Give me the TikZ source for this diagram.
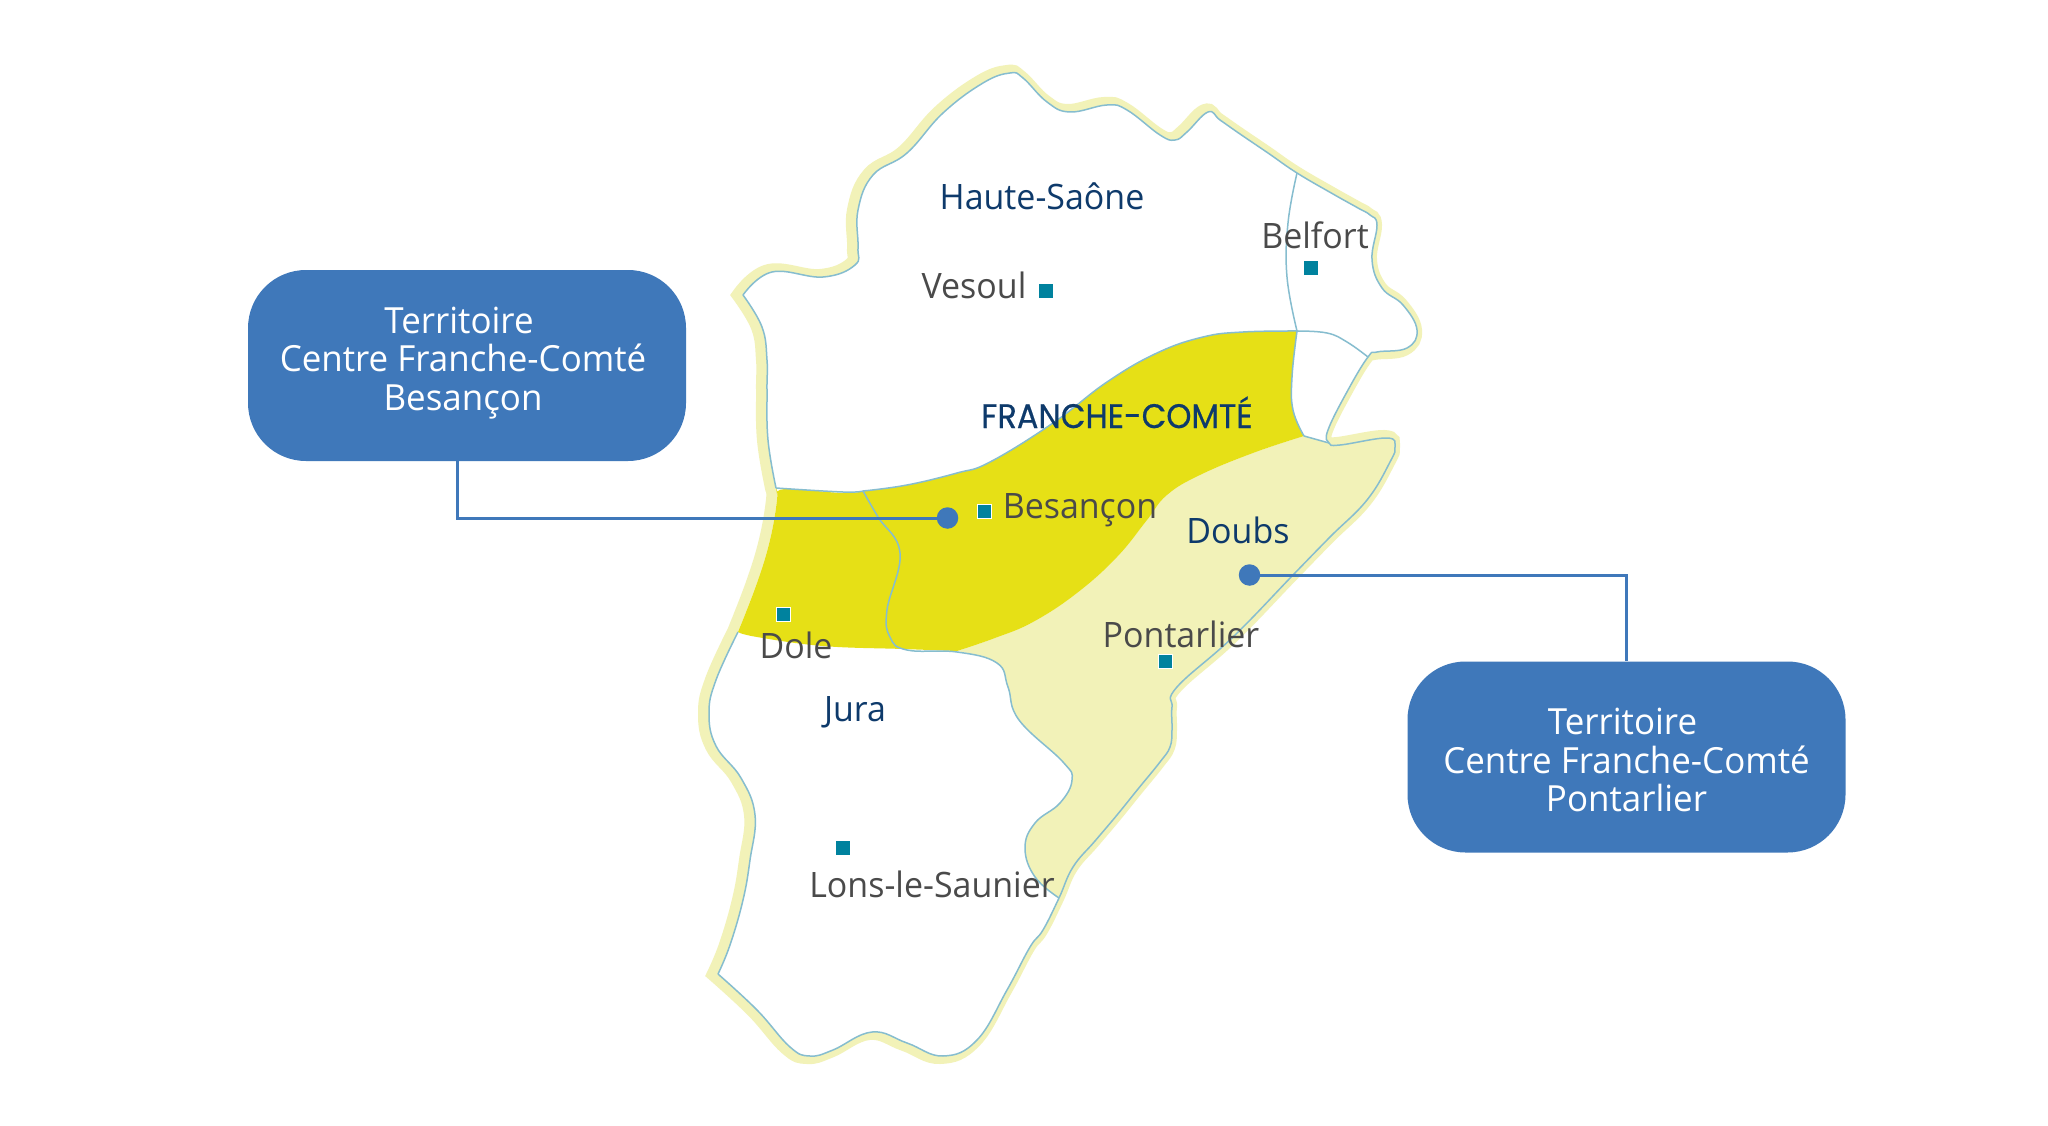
\documentclass[tikz,border=0pt]{standalone}
\usepackage{fontspec}
\setmainfont[FakeStretch=0.97]{Open Sans}
\newfontfamily\fcfont[FakeStretch=0.94,FakeBold=0.6]{Poppins}
\definecolor{pale}{HTML}{F2F2B8}
\definecolor{deep}{HTML}{E6E016}
\definecolor{seam}{HTML}{86BDCF}
\definecolor{boxblue}{HTML}{3F78BA}
\definecolor{navy}{HTML}{0E3A6B}
\definecolor{greytext}{HTML}{4A4A4A}
\definecolor{sq}{HTML}{00829E}
\newcommand\defpart[3]{\newcommand#1{plot[smooth,tension=.7] coordinates {#3}}\newcommand#2{-- plot[smooth,tension=.7] coordinates {#3}}}
\defpart\partA\joinA{(743,295)(772,272)(823,277)(855,265)(858,247)(858,210)(873,175)(907,153)(943,113)(983,83)(1010,73)(1023,78)(1047,102)(1070,112)(1107,105)(1127,110)(1160,135)(1175,140)(1187,132)(1208,112)(1220,120)(1240,134)(1268,153)(1297,173)(1333,194)(1358,208)(1370,215)(1377,225)(1372,260)(1382,288)(1403,305)(1417,330)(1407,348)(1377,352)(1368,357)(1348,390)(1328,430)(1329,443)(1340,445)(1387,438)(1395,447)(1390,462)(1367,500)(1330,537)(1293,575)(1233,637)(1177,687)(1172,707)(1172,730)(1170,747)(1160,762)(1138,789)(1117,815)(1095,841)(1073,867)(1059,898)(1043,930)(1030,947)(1007,990)(977,1040)(943,1056)(907,1043)(872,1032)(833,1050)(810,1056)(790,1047)(757,1010)(718,974)}
\defpart\partB\joinB{(718,974)(730,945)(743,900)(750,860)(755,815)(741,778)(716,746)(709,713)(716,680)(738,632)}
\defpart\partC\joinC{(738,632)(757,583)(770,540)(777,500)(776,488)}
\defpart\partD\joinD{(776,488)(768,440)(767,390)(767,360)(762,327)(743,295)}
\defpart\splitcurve\joinsplit{(1304,436)(1253,453)(1200,475)(1167,495)(1147,520)(1117,557)(1077,593)(1033,622)(995,638)(957,651)}
\defpart\topcurve\jointop{(863,491)(907,485)(957,473)(990,462)(1053,423)(1107,382)(1157,353)(1203,337)(1243,332)(1297,331)}
\defpart\holeleft\joinhole{(1297,331)(1292,377)(1293,410)(1304,436)}
\tikzset{
  seamline/.style={draw=seam,line width=1.5pt},
  blueline/.style={draw=boxblue,line width=3pt},
  bubble/.style={fill=boxblue,rounded corners=58pt,minimum width=438pt,minimum height=191pt,inner sep=0pt},
  bubbletext/.style={text=white,inner sep=0pt,align=center,font=\fontsize{36}{38.5}\selectfont},
  bluedot/.style={circle,fill=boxblue,minimum size=21.5pt,inner sep=0pt},
  town/.style={rectangle,fill=sq,minimum size=14pt,inner sep=0pt},
  towny/.style={town,draw=white,line width=1pt},
  citylabel/.style={text=greytext,inner sep=0pt,anchor=base,font=\fontsize{35}{38}\selectfont},
  arealabel/.style={text=navy,inner sep=0pt,anchor=base,font=\fontsize{35}{38}\selectfont},
}
\begin{document}
\begin{tikzpicture}[x=1pt,y=-1pt]
\useasboundingbox[fill=white] (0,0) rectangle (2048,1126);
% band
\draw[pale,line width=16pt,line join=miter,miter limit=2,xshift=-3pt] \partA \joinB \joinC \joinD -- cycle;
\fill[white] \partA \joinB \joinC \joinD -- cycle;
% lower Doubs
\fill[pale] \splitcurve -- plot[smooth,tension=.7] coordinates {(957,651)(997,663)(1008,687)(1019,720)(1063,762)(1072,780)(1060,803)(1035,823)(1025,848)(1035,877)(1059,898)} -- plot[smooth,tension=.7] coordinates {(1059,898)(1073,867)(1095,841)(1117,815)(1138,789)(1160,762)(1170,747)(1172,730)(1172,707)(1177,687)(1233,637)(1293,575)(1330,537)(1367,500)(1390,462)(1395,447)(1387,438)(1340,445)(1329,443)(1304,436)} -- cycle;
% Centre
\fill[deep] plot[smooth,tension=.7] coordinates {(777,494)(787,489)(843,493)(863,491)} \jointop \joinhole \joinsplit -- plot[smooth,tension=.7] coordinates {(957,651)(903,649)(823,646)(757,637)(738,632)} \joinC -- cycle;
% seams
\draw[seamline,line join=round] \partA;
\draw[seamline] \partB;
\draw[seamline] \partD;
\draw[seamline] plot[smooth,tension=.7] coordinates {(1297,173)(1288,223)(1287,277)(1297,331)};
\draw[seamline] plot[smooth,tension=.7] coordinates {(1297,331)(1327,333)(1347,342)(1368,357)};
\draw[seamline] plot[smooth,tension=.7] coordinates {(776,488)(843,492)(863,491)};
\draw[seamline] \topcurve;
\draw[seamline] \holeleft;
\draw[seamline] (1304,436) -- (1329,443);
\draw[seamline] plot[smooth,tension=.7] coordinates {(863,491)(878,517)(900,553)(887,610)(890,637)(907,650)(957,652)(997,663)(1008,687)(1019,720)(1063,762)(1072,780)(1060,803)(1035,823)(1025,848)(1035,877)(1059,898)};
% towns
\node[town] (vesoul) at (1045.5,291) {};
\node[town] (belfort) at (1310.6,268) {};
\node[towny] (besancon) at (984,511) {};
\node[towny] (dole) at (783,614) {};
\node[towny] (pontarlier) at (1165,661) {};
\node[town] (lons) at (843,847.6) {};
% labels
\node[arealabel] (lhs) at (1042,210) {Haute-Saône};
\node[citylabel] (lvesoul) at (974,298) {Vesoul};
\node[citylabel] (lbelfort) at (1315,248) {Belfort};
\node[arealabel,font=\fontsize{34}{38}\fcfont] (lfc) at (1117,428) {FRANCHE-COMTÉ};
\node[citylabel] (lbesancon) at (1080,518) {Besançon};
\node[arealabel] (ldoubs) at (1238,543) {Doubs};
\node[citylabel] (lpontarlier) at (1181,647) {Pontarlier};
\node[citylabel] (ldole) at (796,658) {Dole};
\node[arealabel] (ljura) at (855,721) {Jura};
\node[citylabel] (llons) at (932,897) {Lons-le-Saunier};
% boxes and connectors
\node[bubble] (boxl) at (467,365.5) {};
\node[bubble] (boxr) at (1626.5,757) {};
\node[bubbletext] (boxltext) at (463,363) {\hspace*{-8pt}Territoire\\Centre Franche-Comté\\Besançon};
\node[bubbletext] (boxrtext) at (1626.5,760) {\hspace*{-8pt}Territoire\\Centre Franche-Comté\\Pontarlier};
\node[bluedot] (dotl) at (947.5,518) {};
\node[bluedot] (dotr) at (1249.5,575) {};
\coordinate (lstart) at (457,461);
\draw[blueline] (dotl) -| (lstart);
\draw[blueline] (dotr) -| (boxr.north);
\end{tikzpicture}
\end{document}
